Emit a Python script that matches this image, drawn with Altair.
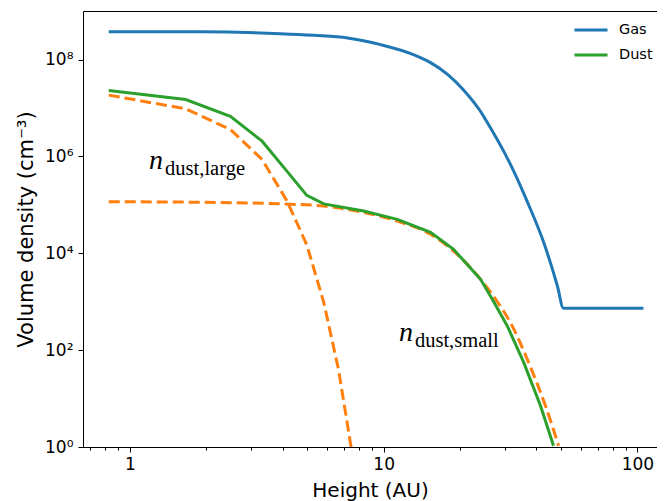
import altair as alt
import pandas as pd

# ---- data ----
gas_x = [0.826, 1.9, 3.93, 5.30, 7.21, 9.73, 13.1, 15.3, 17.9, 20.6, 24.1, 25.2, 31.6, 36.9, 42.7, 48.4, 51.1, 105.6]
gas_y = [3.78e8, 3.76e8, 3.44e8, 3.17e8, 2.80e8, 2.04e8, 1.27e8, 8.67e7, 4.91e7, 2.40e7, 8.47e6, 5.79e6,
         6.84e5, 1.13e5, 1.69e4, 2.09e3, 7.35e2, 7.35e2]

dust_x = [0.826, 1.66, 2.49, 3.32, 4.15, 4.98, 5.81, 8.34, 11.32, 15.31, 18.86, 24.09, 26.8, 30.7, 35.6, 41.5, 46.7]
dust_y = [2.30e7, 1.50e7, 6.78e6, 2.07e6, 5.05e5, 1.57e5, 1.05e5, 7.45e4, 5.02e4, 2.71e4, 1.21e4, 2.91e3,
          1.13e3, 317, 56.6, 7.11, 1.06]

large_x = [0.826, 1.66, 2.49, 3.32, 4.15, 4.98, 5.81, 6.64, 7.47]
large_y = [1.85e7, 9.64e6, 3.61e6, 8.67e5, 1.24e5, 1.50e4, 966, 40, 0.89]

small_x = [0.826, 1.66, 2.49, 3.93, 5.81, 8.34, 11.33, 15.31, 18.86, 24.09, 27.6, 32.1, 37.2, 43.4, 48.9]
small_y = [1.16e5, 1.14e5, 1.11e5, 1.05e5, 9.44e4, 7.0e4, 4.63e4, 2.47e4, 1.11e4, 2.91e3, 1.13e3, 317,
           56.6, 7.11, 1.06]

series_names = ["Gas", "Dust"]
series_colors = ["#1f77b4", "#2ca02c"]
orange = "#ff7f0e"

label_x = [1.191, 11.49]
label_y = [5.57e5, 155.6]
label_sub = ["dust,large", "dust,small"]

x_major = [1, 10, 100]
x_minor = [0.7, 0.8, 0.9, 2, 3, 4, 5, 6, 7, 8, 9, 20, 30, 40, 50, 60, 70, 80, 90]
y_major = [1, 1e2, 1e4, 1e6, 1e8]

# ---- tables ----
gas = pd.DataFrame({"x": gas_x, "y": gas_y, "series": "Gas"})
dust = pd.DataFrame({"x": dust_x, "y": dust_y, "series": "Dust"})
large = pd.DataFrame({"x": large_x, "y": large_y})
small = pd.DataFrame({"x": small_x, "y": small_y})
labels = pd.DataFrame({"x": label_x, "y": label_y, "n": ["n", "n"], "sub": label_sub})

xscale = alt.Scale(type="log", domain=[0.654, 119.4], nice=False)
yscale = alt.Scale(type="log", domain=[1, 1.01e9], nice=False)

is_major = "datum.value == 1 || datum.value == 10 || datum.value == 100"
xaxis = alt.Axis(
    orient="bottom",
    values=x_minor + x_major,
    format="~g",
    labelExpr=f"({is_major}) ? datum.label : ''",
    tickSize={"condition": {"test": is_major, "value": 5}, "value": 3},
    labelOverlap=False, labelFlush=False,
    labelFont="DejaVu Sans", labelFontSize=17, labelColor="black", labelPadding=4,
    tickColor="black", domainColor="black", grid=False,
    title="Height (AU)", titleFont="DejaVu Sans", titleFontSize=20, titleFontWeight="normal",
    titleColor="black", titleBaseline="alphabetic", titleY=49,
)
top_axis = alt.Axis(orient="top", ticks=False, labels=False, domain=True, domainColor="black",
                    grid=False, title=None)
yaxis = alt.Axis(
    values=y_major,
    labelExpr="'10' + (round(log(datum.value)/LN10) == 0 ? '⁰' : round(log(datum.value)/LN10) == 2 ? '²' : "
              "round(log(datum.value)/LN10) == 4 ? '⁴' : round(log(datum.value)/LN10) == 6 ? '⁶' : '⁸')",
    tickSize=5, labelOverlap=False, labelFlush=False,
    labelFont="DejaVu Sans", labelFontSize=17, labelColor="black", labelPadding=5,
    tickColor="black", domainColor="black", grid=False,
    title="Volume density (cm⁻³)", titleFont="DejaVu Sans", titleFontSize=21, titleFontWeight="normal",
    titleColor="black", titleAngle=270, titleBaseline="alphabetic", titleAlign="center",
    titleX=-51, titleY=218,
)

color = alt.Color(
    "series:N",
    scale=alt.Scale(domain=series_names, range=series_colors),
    legend=alt.Legend(
        title=None, orient="none", legendX=490, legendY=1, symbolType="stroke",
        symbolSize=1089, symbolStrokeWidth=2.8, labelFont="DejaVu Sans", labelFontSize=14.5,
        labelColor="black", labelOffset=10, rowPadding=-1.5, padding=0,
    ),
)

X = lambda: alt.X("x:Q", scale=xscale, axis=None)
Y = lambda: alt.Y("y:Q", scale=yscale)

gas_line = alt.Chart(gas).mark_line(strokeWidth=3, interpolate="monotone", clip=True).encode(
    x=alt.X("x:Q", scale=xscale, axis=xaxis),
    y=alt.Y("y:Q", scale=yscale, axis=yaxis),
    color=color,
)
top_spine = alt.Chart(gas).mark_line(opacity=0).encode(
    x=alt.X("x:Q", scale=xscale, axis=top_axis), y=Y(),
)
dust_line = alt.Chart(dust).mark_line(strokeWidth=3, clip=True).encode(x=X(), y=Y(), color=color)
large_line = alt.Chart(large).mark_line(strokeWidth=3, strokeDash=[11, 5], color=orange, clip=True).encode(
    x=X(), y=Y()
)
small_line = alt.Chart(small).mark_line(strokeWidth=3, strokeDash=[11, 5], color=orange, clip=True,
                                        interpolate="monotone").encode(x=X(), y=Y())
n_text = alt.Chart(labels).mark_text(
    font="Liberation Serif", fontStyle="italic", fontSize=28, align="left", baseline="alphabetic", color="black"
).encode(x=X(), y=Y(), text="n:N")
sub_text = alt.Chart(labels).mark_text(
    font="Liberation Serif", fontSize=20.5, align="left", baseline="alphabetic", color="black", dx=16, dy=6
).encode(x=X(), y=Y(), text="sub:N")

chart = alt.layer(gas_line, top_spine, large_line, small_line, dust_line, n_text, sub_text).resolve_axis(
    x="independent"
).properties(
    width=574, height=436,
    autosize=alt.AutoSizeParams(type="none"),
    padding={"left": 75, "top": 3, "right": 0, "bottom": 54},
).configure_view(strokeWidth=0).configure(background="white")

chart.save("out.html", embed_options={"renderer": "svg", "actions": False})
